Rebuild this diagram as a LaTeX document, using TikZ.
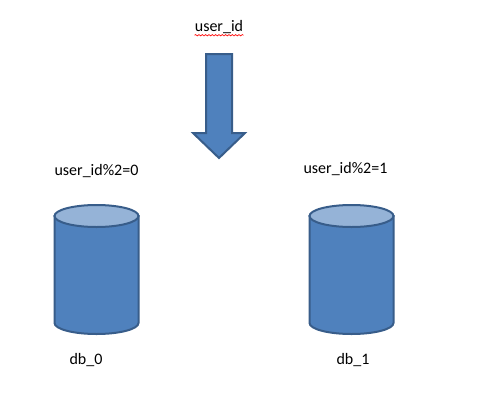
\documentclass[tikz,border=0pt]{standalone}
\usepackage{fontspec}
\setmainfont{Carlito}
\usepackage{xcolor}
\usetikzlibrary{positioning,decorations.pathmorphing}
\definecolor{shapeblue}{HTML}{4F81BD}
\definecolor{shapeedge}{HTML}{385D8A}
\definecolor{shapetop}{HTML}{95B3D7}
\tikzset{
    shapeline/.style={draw=shapeedge, line width=1.5pt, line join=miter},
    lbl/.style={font=\fontsize{12pt}{14pt}\selectfont, inner sep=0pt},
}

\begin{document}
\begin{tikzpicture}[x=0.75pt, y=-0.75pt]
    \useasboundingbox (0,0) rectangle (483,401);

    % Arrow
    \fill[white] (0,0) rectangle (483,401);
    \draw[shapeline, fill=shapeblue] (206,54) -- (232,54) -- (232,133) -- (245,133)
        -- (219,158) -- (193,133) -- (206,133) -- cycle;
    \node[lbl] (userid) at (219,27) {user\_id};
    \draw[red, line width=0.5pt, decoration={snake, amplitude=0.5pt, segment length=2.5pt}, decorate]
        ([yshift=-1pt]userid.south west) -- ([yshift=-1pt]userid.south east);

    % Databases
    \foreach \x/\name in {96.5/zero, 351.5/one} {
        \draw[shapeline, fill=shapeblue] (\x-42,216) -- (\x-42,323)
            arc[start angle=180, end angle=360, x radius=42, y radius=-11]
            -- (\x+42,216) -- cycle;
        \draw[shapeline, fill=shapetop] (\x,216) ellipse[x radius=42, y radius=11];
    }

    % Labels
    \node[lbl] (hashzero) at (96.5,171) {user\_id\%2=0};
    \node[lbl] (hashone) at (345.5,169) {user\_id\%2=1};
    \node[lbl] (dbzero) at (86,360) {db\_0};
    \node[lbl] (dbone) at (353,360) {db\_1};
\end{tikzpicture}
\end{document}
